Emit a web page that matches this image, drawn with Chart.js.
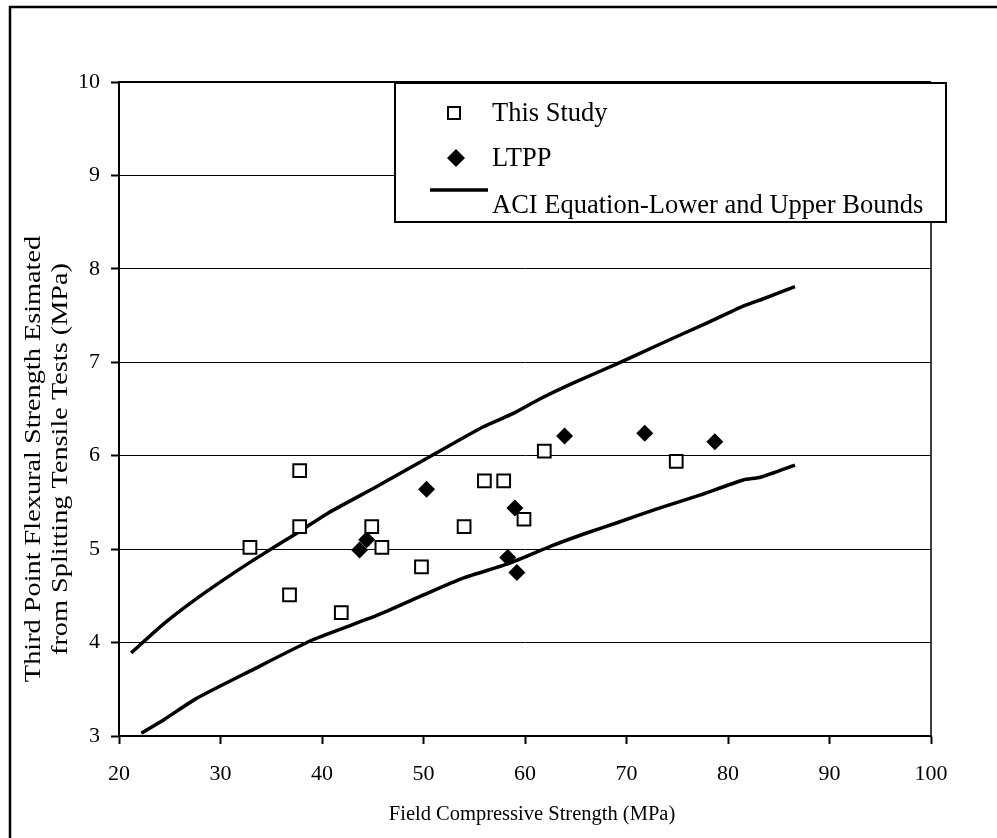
<!DOCTYPE html>
<html>
<head>
<meta charset="utf-8">
<script src="https://cdn.jsdelivr.net/npm/chart.js@4"></script>
<style>
  html, body { margin: 0; padding: 0; background: #fff; }
  canvas { display: block; }
</style>
</head>
<body>
<canvas id="strengthChart" width="997" height="838"></canvas>
<script>
// Field compressive strength vs flexural strength estimated from splitting tests

// This Study (hollow squares)
const studyX = [32.9, 37.8, 37.8, 36.8, 41.9, 44.9, 45.9, 49.8, 54.0, 56.0, 57.9, 59.9, 61.9, 74.9];
const studyY = [5.02, 5.84, 5.24, 4.51, 4.32, 5.24, 5.02, 4.81, 5.24, 5.73, 5.73, 5.32, 6.05, 5.94];

// LTPP (filled diamonds)
const ltppX = [43.7, 44.4, 50.3, 58.3, 59.0, 59.2, 63.9, 71.8, 78.7];
const ltppY = [4.99, 5.10, 5.64, 4.91, 5.44, 4.75, 6.21, 6.24, 6.15];

// ACI equation bounds
const upperX = [21.2, 24.4, 27.0, 30.0, 33.2, 37.8, 40.5, 45.4, 50.3, 55.9, 58.8, 61.5, 65.0, 69.0, 73.0, 77.9, 81.5, 83.5, 86.6];
const upperY = [3.89, 4.20, 4.42, 4.65, 4.88, 5.19, 5.38, 5.67, 5.97, 6.31, 6.45, 6.61, 6.79, 6.98, 7.18, 7.42, 7.60, 7.68, 7.81];
const lowerX = [22.2, 24.5, 27.6, 33.0, 39.1, 45.4, 50.0, 53.9, 58.5, 62.5, 66.0, 69.0, 73.0, 77.0, 81.5, 83.2, 86.6];
const lowerY = [3.03, 3.18, 3.40, 3.70, 4.03, 4.29, 4.51, 4.69, 4.85, 5.03, 5.17, 5.28, 5.43, 5.57, 5.74, 5.77, 5.90];

const seriesNames = ['This Study', 'LTPP', 'ACI Equation-Lower and Upper Bounds'];
const xTitle = 'Field Compressive Strength (MPa)';
const yTitle = ['Third Point Flexural Strength Esimated', 'from Splitting Tensile Tests (MPa)'];

const FONT = "'Liberation Serif', 'Times New Roman', serif";
const pts = (xs, ys) => xs.map((x, i) => ({ x: x, y: ys[i] }));

// Frame, plot border, axis titles and boxed legend
const decorPlugin = {
  id: 'decor',
  afterDraw(chart) {
    const { ctx, chartArea: a } = chart;
    ctx.save();
    // outer frame (runs off the right and bottom edges)
    ctx.strokeStyle = '#000';
    ctx.lineWidth = 2.5;
    ctx.strokeRect(10, 7, 1100, 900);
    // top and right border of plot
    ctx.lineWidth = 2;
    ctx.beginPath();
    ctx.moveTo(a.left, a.top); ctx.lineTo(a.right, a.top);
    ctx.stroke();
    ctx.lineWidth = 1.5;
    ctx.beginPath();
    ctx.moveTo(a.right, a.top); ctx.lineTo(a.right, a.bottom);
    ctx.stroke();

    ctx.fillStyle = '#000';
    ctx.textAlign = 'center';
    ctx.textBaseline = 'middle';

    // x title
    ctx.font = '20.5px ' + FONT;
    ctx.fillText(xTitle, 532, 815);

    // y title, two lines, a bit taller than wide like the original
    ctx.font = '23px ' + FONT;
    ctx.translate(0, 459);
    ctx.rotate(-Math.PI / 2);
    ctx.scale(1.23, 1);
    ctx.fillText(yTitle[0], 0, 34);
    ctx.fillText(yTitle[1], 0, 61);
    ctx.setTransform(1, 0, 0, 1, 0, 0);

    // legend box
    const bx = 395, by = 83, bw = 551, bh = 139;
    ctx.fillStyle = '#fff';
    ctx.fillRect(bx, by, bw, bh);
    ctx.lineWidth = 2;
    ctx.strokeStyle = '#000';
    ctx.strokeRect(bx, by, bw, bh);

    ctx.font = '26.5px ' + FONT;
    ctx.textAlign = 'left';
    ctx.textBaseline = 'middle';
    ctx.fillStyle = '#000';
    // square
    ctx.lineWidth = 2;
    ctx.strokeRect(448, 107, 12, 12);
    ctx.fillText(seriesNames[0], 492, 114);
    // diamond
    ctx.beginPath();
    ctx.moveTo(456, 149); ctx.lineTo(465, 158); ctx.lineTo(456, 167); ctx.lineTo(447, 158);
    ctx.closePath();
    ctx.fill();
    ctx.fillText(seriesNames[1], 492, 159);
    // line
    ctx.lineWidth = 3.5;
    ctx.beginPath();
    ctx.moveTo(430, 190); ctx.lineTo(488, 190);
    ctx.stroke();
    ctx.fillText(seriesNames[2], 492, 206);
    ctx.restore();
  }
};

const boundStyle = {
  showLine: true,
  borderColor: '#000',
  borderWidth: 3.5,
  pointRadius: 0,
  tension: 0.2,
  fill: false
};

new Chart(document.getElementById('strengthChart'), {
  type: 'scatter',
  data: {
    datasets: [
      {
        label: seriesNames[0],
        data: pts(studyX, studyY),
        pointStyle: 'rect',
        pointRadius: 9,
        pointBorderWidth: 2,
        pointBorderColor: '#000',
        pointBackgroundColor: '#fff'
      },
      {
        label: seriesNames[1],
        data: pts(ltppX, ltppY),
        pointStyle: 'rectRot',
        pointRadius: 8.5,
        pointBorderWidth: 0,
        pointBackgroundColor: '#000'
      },
      Object.assign({ label: seriesNames[2], data: pts(upperX, upperY) }, boundStyle),
      Object.assign({ label: seriesNames[2] + ' (lower)', data: pts(lowerX, lowerY) }, boundStyle)
    ]
  },
  options: {
    responsive: false,
    animation: false,
    events: [],
    layout: { padding: { left: 0, top: 82, right: 66, bottom: 0 } },
    plugins: { legend: { display: false }, tooltip: { enabled: false } },
    scales: {
      x: {
        type: 'linear',
        min: 20, max: 100,
        afterFit: (s) => { s.height = 102; },
        ticks: { stepSize: 10, color: '#000', padding: 17, font: { family: FONT, size: 22 } },
        grid: { drawOnChartArea: false, tickLength: 8, tickColor: '#000', tickWidth: 2 },
        border: { color: '#000', width: 2 }
      },
      y: {
        min: 3, max: 10,
        afterFit: (s) => { s.width = 119; },
        ticks: { stepSize: 1, color: '#000', padding: 11, font: { family: FONT, size: 22 } },
        grid: { color: '#000', lineWidth: 1, tickLength: 8, tickColor: '#000', tickWidth: 2 },
        border: { color: '#000', width: 2 }
      }
    }
  },
  plugins: [decorPlugin]
});
</script>
</body>
</html>
